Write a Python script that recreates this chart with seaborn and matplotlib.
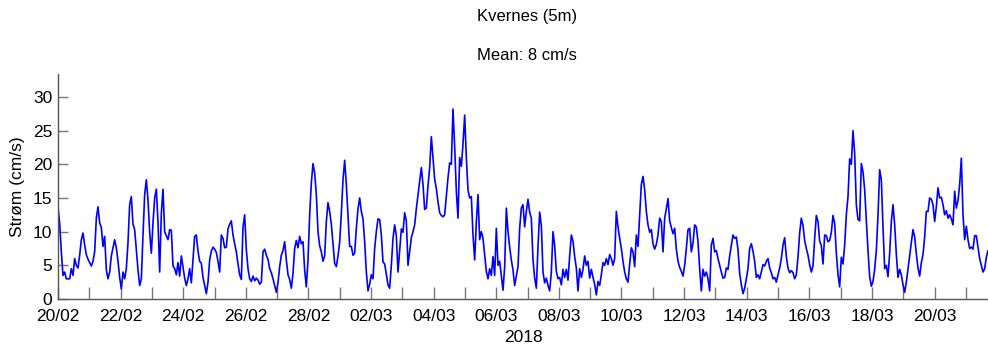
import numpy as np
import pandas as pd
import matplotlib
matplotlib.use("Agg")
import matplotlib.pyplot as plt
import matplotlib.dates as mdates
import seaborn as sns

# Current speed at Kvernes, 5 m depth (cm/s), regular samples from 20 Feb 2018
start_time = "2018-02-20 00:00"
sample_step = "4600s"

speed_feb20_feb24 = [
    13.7, 11.2, 7.0, 3.5, 4.0, 3.0, 3.0, 3.0, 4.5, 3.5, 6.0, 5.0, 4.6, 6.5, 8.8, 9.8,
    8.0, 6.6, 5.9, 5.4, 4.9, 5.6, 7.0, 12.0, 13.7, 11.3, 10.6, 7.8, 9.3, 4.3, 3.0, 4.0,
    6.4, 7.6, 8.8, 7.6, 5.6, 3.2, 1.5, 4.0, 3.0, 4.5, 8.4, 14.0, 15.2, 11.1, 10.3, 7.2,
    4.3, 2.0, 3.0, 9.5, 15.5, 17.7, 14.7, 9.9, 6.8, 11.3, 15.0, 16.3, 11.4, 4.0, 12.7, 16.3,
    10.0, 9.4, 8.8, 10.3, 10.2, 4.9, 4.5, 3.6, 5.4, 3.4, 6.4, 4.8, 3.1, 2.0, 3.0, 4.5,
    2.4, 5.8, 9.3, 9.5, 7.1, 5.6,
]
speed_feb24_mar01 = [
    5.3, 3.2, 2.0, 0.8, 2.5, 5.8, 7.1, 7.7, 7.4, 6.9, 5.6, 4.0, 9.5, 9.0, 7.6, 7.7,
    10.4, 11.1, 11.6, 9.5, 8.2, 7.0, 5.2, 3.6, 2.9, 10.7, 12.5, 7.3, 4.5, 3.0, 2.6, 3.4,
    2.7, 3.1, 2.8, 2.2, 2.5, 7.0, 7.4, 6.5, 5.9, 4.5, 3.9, 3.0, 2.0, 1.0, 2.4, 4.8,
    6.5, 7.2, 8.5, 5.8, 3.6, 2.9, 1.6, 3.8, 7.5, 8.7, 7.6, 9.3, 8.2, 8.5, 4.3, 1.8,
    5.8, 12.5, 17.2, 20.1, 18.7, 15.5, 10.0, 7.9, 7.0, 5.6, 6.4, 11.5, 14.3, 13.0, 11.1, 8.2,
    5.3, 4.8, 6.4, 8.4, 12.7, 17.7, 20.6, 17.0, 12.5, 7.8,
]
speed_mar01_mar06 = [
    7.8, 6.5, 6.8, 10.5, 13.4, 15.0, 13.0, 11.9, 8.5, 4.0, 1.2, 2.2, 3.6, 3.0, 7.5, 10.0,
    11.9, 11.8, 9.5, 5.5, 5.2, 3.6, 2.1, 1.6, 5.0, 9.0, 11.0, 9.4, 4.0, 7.3, 10.4, 9.9,
    12.8, 11.6, 5.0, 7.0, 9.1, 10.0, 11.0, 13.4, 15.4, 17.3, 19.5, 17.0, 13.3, 13.5, 16.8, 19.5,
    24.1, 21.0, 17.8, 16.4, 14.4, 12.8, 12.4, 12.2, 12.5, 15.2, 18.0, 20.2, 20.0, 28.2, 22.6, 16.0,
    12.0, 21.0, 19.7, 23.0, 27.3, 21.0, 16.2, 15.0, 15.2, 9.5, 5.8, 11.4, 15.5, 8.8, 10.0, 9.0,
    6.6, 4.1, 3.0, 4.5, 3.5, 6.3, 3.5, 10.5, 5.0, 5.6,
]
speed_mar06_mar11 = [
    3.4, 1.3, 4.8, 13.5, 10.0, 7.7, 5.8, 4.3, 2.0, 3.4, 4.8, 10.5, 13.5, 14.0, 10.7, 13.0,
    14.8, 12.9, 12.0, 5.8, 3.1, 1.6, 7.8, 12.9, 10.9, 4.0, 2.4, 3.1, 2.0, 1.2, 4.0, 10.0,
    7.9, 4.1, 3.0, 3.2, 2.1, 4.4, 3.2, 4.4, 2.8, 6.4, 9.5, 8.6, 6.3, 4.6, 1.2, 4.5,
    3.2, 4.4, 6.4, 5.0, 5.6, 3.1, 4.4, 3.2, 2.2, 0.6, 2.6, 2.0, 3.6, 5.4, 5.0, 6.0,
    5.1, 6.6, 6.0, 5.0, 6.0, 13.0, 10.7, 9.0, 7.5, 5.6, 4.0, 3.0, 2.5, 5.2, 7.6, 7.0,
    4.8, 9.5, 7.8, 12.5, 17.0, 18.2, 16.2, 13.0, 11.0, 9.9,
]
speed_mar11_mar16 = [
    10.3, 8.2, 7.4, 8.1, 9.5, 12.0, 11.5, 7.0, 12.0, 13.4, 14.9, 11.6, 10.6, 9.7, 10.5, 7.4,
    5.6, 4.7, 4.1, 3.4, 5.0, 7.5, 10.3, 10.5, 7.0, 8.3, 11.0, 10.7, 8.5, 4.5, 1.2, 4.4,
    3.4, 4.0, 3.0, 1.2, 8.0, 9.0, 7.0, 7.2, 6.0, 5.0, 4.0, 3.1, 3.2, 4.6, 4.4, 6.4,
    8.0, 9.5, 9.0, 9.2, 7.3, 3.8, 2.1, 0.8, 1.6, 3.0, 4.5, 7.5, 8.2, 7.1, 5.6, 3.2,
    3.6, 3.0, 4.0, 5.1, 4.9, 5.6, 6.0, 4.6, 3.9, 3.0, 3.2, 2.5, 3.6, 4.6, 6.0, 8.0,
    9.1, 6.3, 4.6, 3.9, 4.2, 3.9, 3.0, 3.6, 6.2, 9.8,
]
speed_mar16_mar21 = [
    12.0, 10.9, 8.7, 7.5, 6.5, 5.1, 4.0, 4.9, 9.0, 12.4, 11.5, 8.6, 7.9, 5.2, 9.5, 9.4,
    8.5, 8.7, 9.9, 12.4, 11.2, 6.8, 3.6, 1.8, 6.2, 5.2, 8.0, 12.5, 15.2, 20.8, 20.0, 25.0,
    21.6, 14.0, 11.8, 11.6, 20.1, 18.9, 16.2, 11.8, 7.2, 3.3, 1.9, 2.6, 4.4, 7.2, 12.4, 19.2,
    17.7, 10.7, 4.5, 5.0, 3.3, 6.8, 11.5, 14.0, 11.0, 6.6, 3.2, 4.4, 3.6, 2.1, 1.0, 2.5,
    4.5, 6.5, 8.4, 10.3, 9.2, 6.7, 4.6, 3.4, 5.4, 6.6, 9.2, 13.0, 13.0, 15.0, 14.8, 14.0,
    11.5, 13.7, 16.5, 15.0, 15.1, 14.0, 12.5, 13.1, 12.0, 12.5, 11.9, 11.0, 16.0, 13.5, 14.6, 17.0,
    20.9, 12.5, 8.8, 10.8, 8.8, 7.5, 7.7, 7.4, 9.4, 9.4, 7.7, 6.0, 5.0, 4.0, 4.5, 6.2,
    7.2,
]

title_lines = ["Kvernes (5m)", "Mean: 8 cm/s"]
y_label = "Strøm (cm/s)"
x_label = "2018"
y_ticks = [0, 5, 10, 15, 20, 25, 30]
y_top = 33.4

speed = (speed_feb20_feb24 + speed_feb24_mar01 + speed_mar01_mar06
         + speed_mar06_mar11 + speed_mar11_mar16 + speed_mar16_mar21)
times = pd.date_range(start_time, periods=len(speed), freq=sample_step)
df = pd.DataFrame({"time": times, "speed": speed})

sns.set_style("white")
plt.rcParams["font.family"] = ["Liberation Sans", "DejaVu Sans"]
plt.rcParams["text.color"] = "black"
plt.rcParams["axes.labelcolor"] = "black"

fig = plt.figure(figsize=(9.88, 3.47), dpi=100)
ax = fig.add_axes([58 / 988, 48 / 347, 930 / 988, 225 / 347])

sns.lineplot(data=df, x="time", y="speed", ax=ax, color="#0000ff",
             linewidth=1.2, estimator=None)

ax.set_xlim(times[0], times[-1])
ax.set_ylim(0, y_top)
ax.set_yticks(y_ticks)

# labelled ticks on even days (20/02 ... 28/02, 02/03 ... 20/03), one tick per day
ax.xaxis.set_major_locator(mdates.DayLocator(bymonthday=range(2, 32, 2)))
ax.xaxis.set_minor_locator(mdates.DayLocator())
ax.xaxis.set_major_formatter(mdates.DateFormatter("%d/%m"))

for side in ["top", "right"]:
    ax.spines[side].set_visible(False)
for side in ["left", "bottom"]:
    ax.spines[side].set_color("#555555")
    ax.spines[side].set_linewidth(1.0)

ax.tick_params(axis="both", which="both", direction="in", color="#777777",
               width=1.0, labelsize=12.5, labelcolor="black",
               bottom=True, left=True, top=False, right=False)
ax.tick_params(axis="x", which="major", length=9, pad=7.5)
ax.tick_params(axis="x", which="minor", length=9)
ax.tick_params(axis="y", length=7, pad=4)

ax.set_xlabel(x_label, fontsize=12.5, labelpad=4)
ax.set_ylabel(y_label, fontsize=12.5, labelpad=6)

fig.text(527 / 988, 1 - 16 / 347, title_lines[0], ha="center", va="center", fontsize=12)
fig.text(527 / 988, 1 - 56 / 347, title_lines[1], ha="center", va="center", fontsize=12)

fig.savefig("out.png", dpi=100)
